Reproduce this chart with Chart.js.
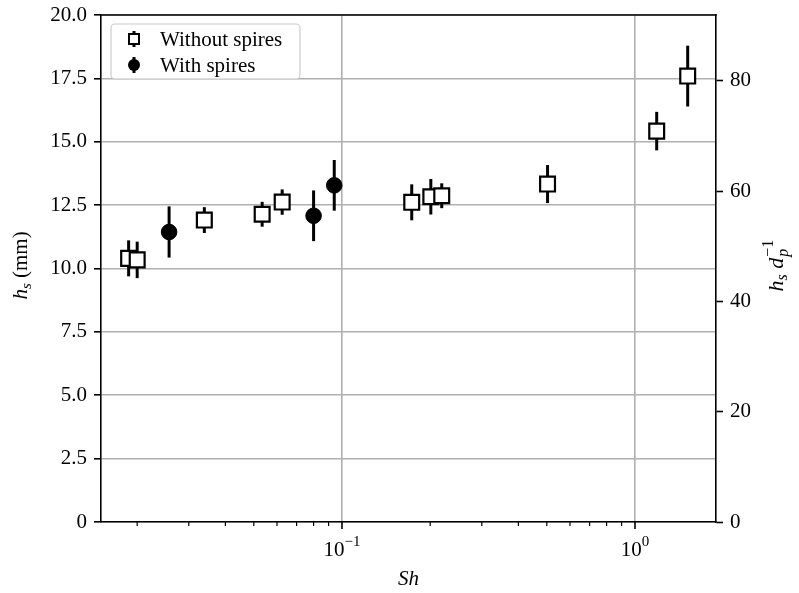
<!DOCTYPE html>
<html><head><meta charset="utf-8">
<script src="https://cdn.jsdelivr.net/npm/chart.js@4/dist/chart.umd.min.js"></script>
<style>html,body{margin:0;padding:0;background:#fff;}#wrap{width:799px;height:593px;}</style>
</head><body><div id="wrap"><canvas id="c" width="799" height="593"></canvas></div>
<script>
// ---- data ----
const shWithout  = [0.0187, 0.0200, 0.0339, 0.0534, 0.0625, 0.173, 0.201, 0.219, 0.503, 1.186, 1.513];
const hsWithout  = [10.40, 10.34, 11.91, 12.14, 12.62, 12.61, 12.83, 12.87, 13.33, 15.42, 17.59];
const errWithout = [0.71, 0.72, 0.51, 0.49, 0.50, 0.71, 0.70, 0.49, 0.75, 0.76, 1.20];
const shWith  = [0.0257, 0.0800, 0.0941];
const hsWith  = [11.44, 12.08, 13.28];
const errWith = [1.01, 1.00, 1.00];
const seriesNames = ['Without spires', 'With spires'];
const leftTicks  = [0, 2.5, 5, 7.5, 10, 12.5, 15, 17.5, 20];
const rightTicks = [0, 20, 40, 60, 80];
const xTickValues = [0.02,0.03,0.04,0.05,0.06,0.07,0.08,0.09,0.1,0.2,0.3,0.4,0.5,0.6,0.7,0.8,0.9,1];
const xMajorTicks = [0.1, 1];
const xMajorExps  = ['\u22121', '0'];
const dpMm = 0.2176;            // particle diameter, mm (right axis = hs / dp)
const xMin = 0.01505, xMax = 1.89;

// ---- styling ----
const FONT = '"Liberation Serif","Times New Roman",serif';
const FS = 21;
const GRID = '#b0b0b0';

function isMajor(v){ if(!v) return false; const l=Math.log10(v); return Math.abs(l-Math.round(l))<1e-9; }

const errPlugin = {
  id:'errbars',
  beforeDatasetsDraw(chart){
    const ctx=chart.ctx, xs=chart.scales.x, ys=chart.scales.y;
    chart.data.datasets.forEach(ds=>{
      ctx.save(); ctx.strokeStyle='#000'; ctx.lineWidth=3; ctx.lineCap='butt';
      ds.data.forEach((p,i)=>{
        const px=xs.getPixelForValue(p.x);
        ctx.beginPath();
        ctx.moveTo(px, ys.getPixelForValue(p.y-ds.errors[i]));
        ctx.lineTo(px, ys.getPixelForValue(p.y+ds.errors[i]));
        ctx.stroke();
      });
      ctx.restore();
    });
  }
};

const decoPlugin = {
  id:'deco',
  afterDraw(chart){
    const ctx=chart.ctx, a=chart.chartArea, xs=chart.scales.x;
    ctx.save();
    // top spine
    ctx.strokeStyle='#000'; ctx.lineWidth=1.6;
    ctx.beginPath(); ctx.moveTo(a.left-0.8,a.top); ctx.lineTo(a.right+0.8,a.top); ctx.stroke();
    // x tick marks
    xTickValues.forEach(v=>{
      const px=xs.getPixelForValue(v);
      const maj=isMajor(v);
      ctx.lineWidth=maj?1.6:1.2;
      ctx.beginPath(); ctx.moveTo(px,a.bottom); ctx.lineTo(px,a.bottom+(maj?7:4)); ctx.stroke();
    });
    // x tick labels 10^n
    ctx.fillStyle='#000'; ctx.textBaseline='alphabetic';
    xMajorTicks.forEach((v,i)=>{
      const px=xs.getPixelForValue(v);
      ctx.font=FS+'px '+FONT; const w1=ctx.measureText('10').width;
      ctx.font='15px '+FONT; const w2=ctx.measureText(xMajorExps[i]).width;
      const x0=px-(w1+w2)/2;
      ctx.font=FS+'px '+FONT; ctx.textAlign='left'; ctx.fillText('10',x0,556);
      ctx.font='15px '+FONT; ctx.fillText(xMajorExps[i],x0+w1,546);
    });
    // x title
    ctx.font='italic '+FS+'px '+FONT; ctx.textAlign='center';
    ctx.fillText('Sh',(a.left+a.right)/2,585);
    // left title: h_s (mm)
    ctx.save();
    ctx.translate(27,(a.top+a.bottom)/2 - 3); ctx.rotate(-Math.PI/2);
    ctx.textAlign='left';
    ctx.font='italic '+FS+'px '+FONT; const wh=ctx.measureText('h').width;
    ctx.font='italic 15px '+FONT; const ws=ctx.measureText('s').width;
    ctx.font=FS+'px '+FONT; const wm=ctx.measureText(' (mm)').width;
    let x=-(wh+ws+wm)/2;
    ctx.font='italic '+FS+'px '+FONT; ctx.fillText('h',x,0); x+=wh;
    ctx.font='italic 15px '+FONT; ctx.fillText('s',x,4); x+=ws;
    ctx.font=FS+'px '+FONT; ctx.fillText(' (mm)',x,0);
    ctx.restore();
    // right title: h_s d_p^{-1}
    ctx.save();
    ctx.translate(783,(a.top+a.bottom)/2 - 3); ctx.rotate(-Math.PI/2);
    ctx.textAlign='left';
    const F2=22, F2s=16;
    ctx.font='italic '+F2+'px '+FONT; const wh2=ctx.measureText('h').width; const wd=ctx.measureText('d').width; const wsp=ctx.measureText(' ').width;
    ctx.font='italic '+F2s+'px '+FONT; const ws2=ctx.measureText('s').width; const wp=ctx.measureText('p').width;
    ctx.font=F2s+'px '+FONT; const wmi=ctx.measureText('\u22121').width;
    const tot=wh2+ws2+wsp+wd+1+Math.max(wp,wmi);
    x=-tot/2;
    ctx.font='italic '+F2+'px '+FONT; ctx.fillText('h',x,0); x+=wh2;
    ctx.font='italic '+F2s+'px '+FONT; ctx.fillText('s',x,4); x+=ws2+wsp;
    ctx.font='italic '+F2+'px '+FONT; ctx.fillText('d',x,0); x+=wd+1;
    ctx.font='italic '+F2s+'px '+FONT; ctx.fillText('p',x,5);
    ctx.font=F2s+'px '+FONT; ctx.fillText('\u22121',x,-10);
    ctx.restore();
    // legend
    const bx=111, by=24, bw=189, bh=55, r=4;
    ctx.fillStyle='rgba(255,255,255,0.85)'; ctx.strokeStyle='#cccccc'; ctx.lineWidth=1.2;
    ctx.beginPath(); ctx.roundRect(bx,by,bw,bh,r); ctx.fill(); ctx.stroke();
    const rows=[by+15,by+41];
    ctx.strokeStyle='#000'; ctx.lineWidth=3;
    rows.forEach(y=>{ ctx.beginPath(); ctx.moveTo(134,y-8); ctx.lineTo(134,y+8); ctx.stroke(); });
    ctx.lineWidth=2; ctx.fillStyle='#fff';
    ctx.beginPath(); ctx.rect(129,rows[0]-5,10,10); ctx.fill(); ctx.stroke();
    ctx.fillStyle='#000';
    ctx.beginPath(); ctx.arc(134,rows[1],6,0,Math.PI*2); ctx.fill();
    ctx.font=FS+'px '+FONT; ctx.textAlign='left'; ctx.textBaseline='middle';
    ctx.fillText(seriesNames[0],160,rows[0]+1);
    ctx.fillText(seriesNames[1],160,rows[1]+1);
    ctx.restore();
  }
};

function fixBox(w,h){
  return s=>{ if(w!=null) s.width=w; if(h!=null) s.height=h;
    s.paddingTop=0; s.paddingBottom=0; s.paddingLeft=0; s.paddingRight=0; };
}

new Chart(document.getElementById('c'), {
  type:'scatter',
  data:{ datasets:[
    { label:seriesNames[0], data:shWithout.map((x,i)=>({x, y:hsWithout[i]})), errors:errWithout,
      pointStyle:'rect', pointRadius:10.5, backgroundColor:'#fff', borderColor:'#000', borderWidth:2.2 },
    { label:seriesNames[1], data:shWith.map((x,i)=>({x, y:hsWith[i]})), errors:errWith,
      pointStyle:'circle', pointRadius:7.8, backgroundColor:'#000', borderColor:'#000', borderWidth:1 }
  ]},
  options:{
    responsive:false, animation:false, devicePixelRatio:1, events:[],
    layout:{ padding:{ top:15, left:0, right:0, bottom:0 } },
    plugins:{ legend:{display:false}, tooltip:{enabled:false} },
    scales:{
      x:{ type:'logarithmic', min:xMin, max:xMax,
          afterBuildTicks:s=>{ s.ticks=xTickValues.map(v=>({value:v})); },
          ticks:{ display:false },
          grid:{ color:c=>isMajor(c.tick&&c.tick.value)?GRID:'rgba(0,0,0,0)', lineWidth:1.6, drawTicks:false },
          border:{ color:'#000', width:1.6 },
          afterFit:fixBox(null,71) },
      y:{ type:'linear', position:'left', min:0, max:20,
          afterBuildTicks:s=>{ s.ticks=leftTicks.map(v=>({value:v})); },
          ticks:{ callback:v=>v===0?'0':v.toFixed(1), font:{family:FONT,size:FS}, color:'#000', padding:7 },
          grid:{ color:GRID, lineWidth:1.6, tickColor:'#000', tickLength:7, tickWidth:1.6 },
          border:{ color:'#000', width:1.6 },
          afterFit:fixBox(101,null) },
      y1:{ type:'linear', position:'right', min:0, max:20/dpMm,
          afterBuildTicks:s=>{ s.ticks=rightTicks.map(v=>({value:v})); },
          ticks:{ font:{family:FONT,size:FS}, color:'#000', padding:7 },
          grid:{ drawOnChartArea:false, tickColor:'#000', tickLength:7, tickWidth:1.6 },
          border:{ color:'#000', width:1.6 },
          afterFit:fixBox(83,null) }
    }
  },
  plugins:[errPlugin, decoPlugin]
});
</script></body></html>
